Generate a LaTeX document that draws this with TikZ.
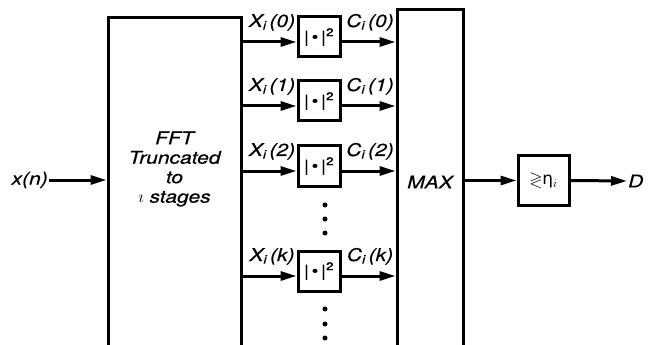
\documentclass[tikz,border=0pt]{standalone}
\usepackage{amssymb}
\usepackage{fontspec}
\setmainfont{TeX Gyre Heros}[FakeStretch=1.2, FakeBold=0.4]
\newfontfamily\grkfont{DejaVu Sans}
\usetikzlibrary{arrows.meta,positioning,calc}

\begin{document}
\begin{tikzpicture}[x=1pt, y=-1pt,
    block/.style={draw, rectangle, line width=3pt, inner sep=0pt},
    sq/.style={block, minimum width=42pt, minimum height=40pt, font=\fontsize{16}{18}\selectfont},
    sig/.style={line width=3pt, -{Triangle[length=16pt,width=9pt]}},
    lbl/.style={font=\fontsize{17.5}{19.5}\selectfont\itshape, inner sep=1pt},
    dot/.style={circle, fill, inner sep=0pt, minimum size=5pt}
  ]
  \useasboundingbox (0,0) rectangle (657,345);
  \clip (0,0) rectangle (657,345);

  % FFT block (open at the bottom)
  \node[block, minimum width=133pt, minimum height=360pt, anchor=north] (fft) at (174.5,16) {};
  \node[lbl, align=center] (fftlbl) at (174.5,169) {FFT\\Truncated\\to\\$\imath$ stages};

  % MAX block
  \node[block, minimum width=66pt, minimum height=360pt, anchor=north] (max) at (430,8) {};
  \node[lbl] (maxlbl) at (430,182) {MAX};

  % input
  \node[lbl, anchor=east] (xin) at (49,180) {x(n)};
  \draw[sig] (xin.east) -- (fft.west |- xin.east);

  % squaring branches
  \foreach \k/\y in {0/42, 1/106, 2/171, k/276} {
    \coordinate (in\k) at (319,\y);
    \node[sq] (sq\k) at (319,{\y-5}) {|\,\textbullet\,|\textsuperscript{2}};
    \draw[sig] (fft.east |- in\k) -- (sq\k.west |- in\k);
    \draw[sig] (sq\k.east |- in\k) -- (max.west |- in\k);
    \node[lbl, anchor=base] (xl\k) at (272,{\y-15}) {X\textsubscript{i}\,(\k)};
    \node[lbl, anchor=base] (cl\k) at (370,{\y-15}) {C\textsubscript{i}\,(\k)};
  }

  % dots
  \foreach \y in {205,219,233,309,324,338}
    \node[dot] (d\y) at (325,\y) {};

  % threshold and decision
  \node[block, minimum width=51pt, minimum height=49pt, font=\fontsize{17}{19}\selectfont] (thr) at (543.5,180.5) {$\gtrless${\grkfont η}$_i$};
  \draw[sig] (max.east |- thr) -- (thr.west);
  \node[lbl, anchor=west] (dout) at (627,181) {D};
  \draw[sig] (thr.east) -- (dout.west);
\end{tikzpicture}
\end{document}
